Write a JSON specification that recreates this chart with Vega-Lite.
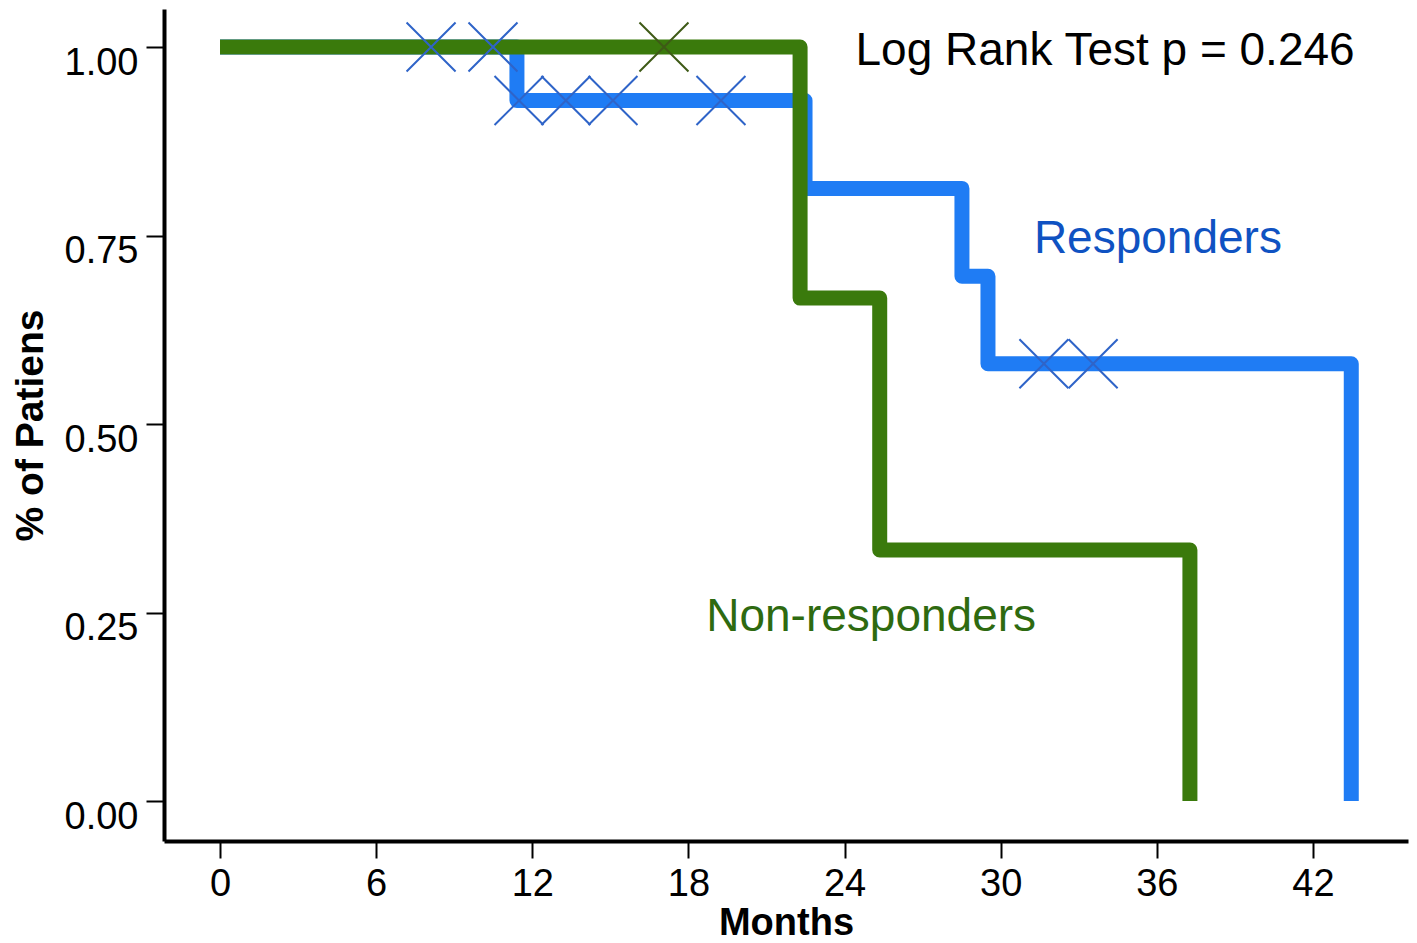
{
  "$schema": "https://vega.github.io/schema/vega-lite/v6.json",
  "width": 1244,
  "height": 832,
  "autosize": {"type": "none"},
  "padding": {"left": 164, "top": 9, "right": 9, "bottom": 102},
  "background": "white",
  "config": {"view": {"stroke": null}, "font": "Liberation Sans"},
  "datasets": {
    "curves": [
      {"group": "Responders", "month": 0, "survival": 1.0},
      {"group": "Responders", "month": 11.41, "survival": 0.929},
      {"group": "Responders", "month": 22.48, "survival": 0.8125},
      {"group": "Responders", "month": 28.51, "survival": 0.696},
      {"group": "Responders", "month": 29.51, "survival": 0.58},
      {"group": "Responders", "month": 43.47, "survival": 0.0},
      {"group": "Non-responders", "month": 0, "survival": 1.0},
      {"group": "Non-responders", "month": 22.29, "survival": 0.667},
      {"group": "Non-responders", "month": 25.35, "survival": 0.333},
      {"group": "Non-responders", "month": 37.27, "survival": 0.0}
    ],
    "censored": [
      {"group": "Responders", "month": 8.11, "survival": 1.0},
      {"group": "Responders", "month": 10.49, "survival": 1.0},
      {"group": "Responders", "month": 11.49, "survival": 0.929},
      {"group": "Responders", "month": 13.29, "survival": 0.929},
      {"group": "Responders", "month": 15.1, "survival": 0.929},
      {"group": "Responders", "month": 19.25, "survival": 0.929},
      {"group": "Responders", "month": 31.66, "survival": 0.58},
      {"group": "Responders", "month": 33.55, "survival": 0.58},
      {"group": "Non-responders", "month": 17.06, "survival": 1.0}
    ],
    "notes": [
      {"label": "Log Rank Test p = 0.246", "kind": "test", "month": 34.01, "survival": 0.976},
      {"label": "Responders", "kind": "Responders", "month": 36.04, "survival": 0.727},
      {"label": "Non-responders", "kind": "Non-responders", "month": 25.02, "survival": 0.2255}
    ]
  },
  "encoding": {
    "x": {
      "field": "month",
      "type": "quantitative",
      "scale": {"domain": [-2.152, 45.65], "nice": false, "zero": false},
      "axis": {
        "values": [0, 6, 12, 18, 24, 30, 36, 42],
        "grid": false,
        "domainColor": "black",
        "domainWidth": 4,
        "tickColor": "black",
        "tickWidth": 2,
        "tickSize": 17,
        "labelFont": "Liberation Sans",
        "labelFontSize": 38,
        "labelColor": "black",
        "labelPadding": 7,
        "title": "Months",
        "titleFont": "Liberation Sans",
        "titleFontSize": 38,
        "titleFontWeight": "bold",
        "titleColor": "black",
        "titlePadding": 1
      }
    },
    "y": {
      "field": "survival",
      "type": "quantitative",
      "scale": {"domain": [-0.053, 1.0504], "nice": false, "zero": false},
      "axis": {
        "values": [0, 0.25, 0.5, 0.75, 1],
        "format": ".2f",
        "grid": false,
        "domainColor": "black",
        "domainWidth": 4,
        "tickColor": "black",
        "tickWidth": 2,
        "tickSize": 18,
        "labelFont": "Liberation Sans",
        "labelFontSize": 38,
        "labelColor": "black",
        "labelPadding": 8,
        "labelOffset": 16,
        "title": "% of Patiens",
        "titleFont": "Liberation Sans",
        "titleFontSize": 39,
        "titleFontWeight": "bold",
        "titleColor": "black",
        "titlePadding": 14
      }
    }
  },
  "layer": [
    {
      "data": {"name": "curves"},
      "mark": {"type": "line", "interpolate": "step-after", "strokeWidth": 15, "strokeJoin": "round", "strokeCap": "butt"},
      "encoding": {
        "color": {
          "field": "group",
          "type": "nominal",
          "scale": {"domain": ["Responders", "Non-responders"], "range": ["#1f7cf4", "#3a7a0c"]},
          "legend": null
        }
      }
    },
    {
      "data": {"name": "censored"},
      "mark": {"type": "point", "shape": "M-1,-1L1,1M-1,1L1,-1", "size": 2401, "filled": false, "strokeWidth": 2, "opacity": 1},
      "encoding": {
        "stroke": {
          "field": "group",
          "type": "nominal",
          "scale": {"domain": ["Responders", "Non-responders"], "range": ["#2f64c8", "#3e5a16"]},
          "legend": null
        }
      }
    },
    {
      "data": {"name": "notes"},
      "mark": {"type": "text", "font": "Liberation Sans", "fontSize": 46, "align": "center", "baseline": "alphabetic"},
      "encoding": {
        "text": {"field": "label", "type": "nominal"},
        "fill": {
          "field": "kind",
          "type": "nominal",
          "scale": {"domain": ["test", "Responders", "Non-responders"], "range": ["#000000", "#0f52c2", "#2e6a10"]},
          "legend": null
        }
      }
    }
  ]
}
